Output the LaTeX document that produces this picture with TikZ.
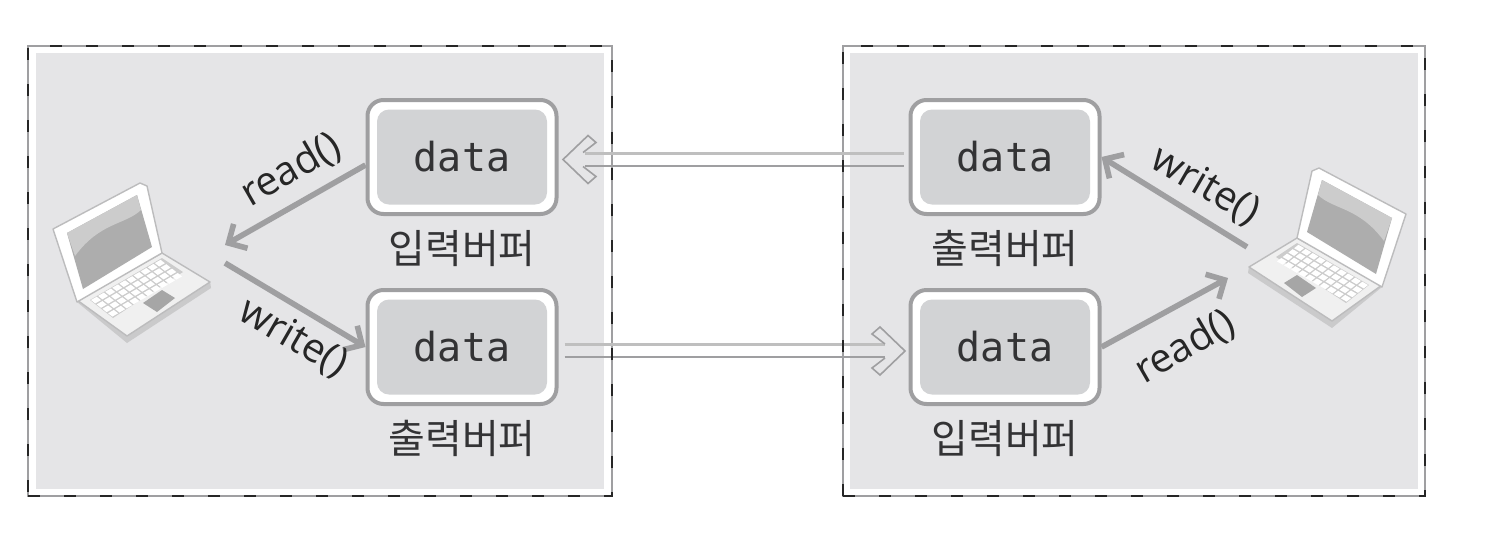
\documentclass[tikz,border=0pt]{standalone}
\usepackage{fontspec}
\setmonofont{DejaVu Sans Mono}
\setsansfont{Open Sans}
\newfontfamily\krfont{Noto Sans CJK KR}
\usepackage{xcolor}
\usetikzlibrary{arrows.meta}
\usetikzlibrary{positioning}

\definecolor{panelgray}{HTML}{E5E5E7}
\definecolor{cellgray}{HTML}{D2D3D5}
\definecolor{edgegray}{HTML}{9F9FA1}
\definecolor{inkgray}{HTML}{333335}

\tikzset{
    panelbox/.style = {draw=edgegray, fill=white, line width=1pt, minimum height=225pt, inner sep=0},
    panelfill/.style = {fill=panelgray, minimum height=218pt, inner sep=0},
    paneldash/.style = {draw=black!85, line width=1pt, dash pattern=on 6pt off 12pt, minimum height=225pt, inner sep=0},
    buffer/.style = {draw=edgegray, fill=white, line width=2pt, rounded corners=8pt, minimum width=94.5pt, minimum height=57pt, inner sep=0},
    datacell/.style = {fill=cellgray, rounded corners=6pt, minimum width=85pt, minimum height=47.5pt, inner sep=0, text=inkgray, font=\fontsize{20}{20}\ttfamily},
    buflabel/.style = {text=inkgray, inner sep=0, font=\fontsize{20}{20}\krfont},
    calllabel/.style = {text=black!85, inner sep=0, font=\fontsize{20}{20}\sffamily},
    callarrow/.style = {draw=edgegray, line width=2.8pt, -{Straight Barb[length=7pt,width=14pt]}},
    pipeupper/.style = {draw=black!25, line width=1.5pt},
    pipelower/.style = {draw=edgegray, line width=1pt},
    pipetip/.pic = {
        \draw[edgegray, line width=0.8pt, line join=miter]
            (20,-7) -- (33,-17) -- (25,-24) -- (0,0) -- (25,24) -- (33,17) -- (20,7);
    },
    laptop/.pic = {
        % base
        \fill[edgegray!55] (77,302) -- (127,343) -- (211,288) -- (210,281) -- cycle;
        \draw[edgegray!70, fill=white!94!black, line width=0.7pt, line join=round]
            (77,300) -- (127,336) -- (210,282) -- (162,253) -- cycle;
        \fill[white!80!black] (90,300) -- (162,258) -- (183,272) -- (113,318) -- cycle;
        \foreach \r in {0,...,3}{
            \foreach \c in {0,...,9}{
                \fill[white] ({91+7.1*\c+5.7*\r},{300-4.1*\c+4.4*\r}) -- ++(5.7,-3.3) -- ++(4.3,3.4) -- ++(-5.7,3.3) -- cycle;
            }
        }
        \fill[black!35] (143,303) -- (162,290) -- (175,298) -- (157,312) -- cycle;
        % lid
        \draw[edgegray!70, fill=white, line width=0.7pt, line join=round]
            (53,229) -- (140,183) -- (147,186) -- (162,253) -- (77,302) -- cycle;
        \fill[black!32] (67,233) -- (137,195) -- (152,247) -- (83,289) -- cycle;
        \fill[black!20] (67,233) -- (137,195) -- (141,210) .. controls (125,225) and (100,222) .. (75,256) -- cycle;
    }
}

\begin{document}
\begin{tikzpicture}[x=0.5pt, y=-0.5pt]

\useasboundingbox (0,0) rectangle (1494,542);

\node (boxL) [panelbox, minimum width=292pt] at (320,271) {};
\node (boxR) [panelbox, minimum width=291pt] at (1134,271) {};
\node (fillL) [panelfill, minimum width=284pt] at (320,271) {};
\node (fillR) [panelfill, minimum width=284pt] at (1134,271) {};

\pic at (0,0) {laptop};
\pic[xscale=-1] at (1459,-15) {laptop};

\node (inL) [buffer] at (462,157) {};
\node (outL) [buffer] at (462,347) {};
\node (outR) [buffer] at (1005,157) {};
\node (inR) [buffer] at (1005,347) {};

\node (dataInL) [datacell] at (inL) {data};
\node (dataOutL) [datacell] at (outL) {data};
\node (dataOutR) [datacell] at (outR) {data};
\node (dataInR) [datacell] at (inR) {data};

\node (labInL) [buflabel, below=7pt of inL] {입력버퍼};
\node (labOutL) [buflabel, below=7pt of outL] {출력버퍼};
\node (labOutR) [buflabel, below=7pt of outR] {출력버퍼};
\node (labInR) [buflabel, below=7pt of inR] {입력버퍼};

% free ends near the laptops
\coordinate (readEndL) at (225,245);
\coordinate (writeStartL) at (225,263);
\coordinate (writeStartR) at (1247,247);
\coordinate (readEndR) at (1228,278);

\draw[callarrow] ([yshift=-4pt]inL.west) -- (readEndL);
\draw[callarrow] (writeStartL) -- (outL.west);
\draw[callarrow] (writeStartR) -- (outR.east);
\draw[callarrow] (inR.east) -- (readEndR);

\node (callReadL) [calllabel, rotate=30] at (291,170) {read()};
\node (callWriteL) [calllabel, rotate=-30] at (293,338) {write()};
\node (callWriteR) [calllabel, rotate=-30] at (1205,186) {write()};
\node (callReadR) [calllabel, rotate=30] at (1185,347) {read()};

% the two pipes between the buffers
\draw[pipeupper] ([xshift=-2.5pt,yshift=2pt]outR.west) -- ([xshift=13pt,yshift=2pt]inL.east);
\draw[pipelower] ([xshift=-2.5pt,yshift=-4.5pt]outR.west) -- ([xshift=13pt,yshift=-4.5pt]inL.east);
\pic at (563,159.5) {pipetip};

\draw[pipeupper] ([xshift=3pt,yshift=1.5pt]outL.east) -- ([xshift=-12pt,yshift=1.5pt]inR.west);
\draw[pipelower] ([xshift=3pt,yshift=-5pt]outL.east) -- ([xshift=-12pt,yshift=-5pt]inR.west);
\pic[xscale=-1] at (905,351) {pipetip};

\node (dashL) [paneldash, minimum width=292pt] at (boxL) {};
\node (dashR) [paneldash, minimum width=291pt] at (boxR) {};

\end{tikzpicture}
\end{document}
